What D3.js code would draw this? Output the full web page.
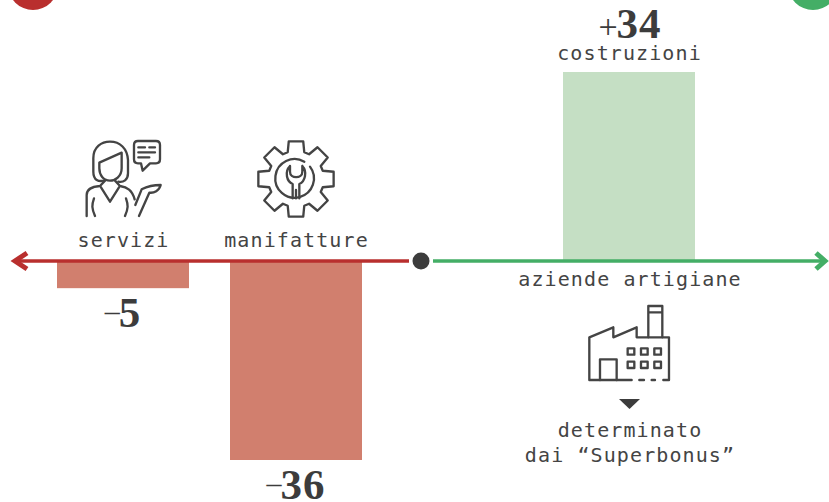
<!DOCTYPE html>
<html><head><meta charset="utf-8">
<script src="https://cdn.jsdelivr.net/npm/d3@7/dist/d3.min.js"></script>
<style>
html,body{margin:0;padding:0;background:#fff;overflow:hidden}
svg{display:block}
.m{font-family:"DejaVu Sans Mono",monospace;font-size:20px;letter-spacing:1.1px;fill:#444;text-anchor:middle}
.n{font-family:"Liberation Serif",serif;text-anchor:middle;fill:#3c3c3c}
.ic{fill:none;stroke:#444;stroke-width:7;stroke-linecap:round;stroke-linejoin:round}
</style></head><body>
<script>
const categories = ["servizi", "manifatture", "costruzioni"];
const values = [-5, -36, 34];
const axisLabel = "aziende artigiane";
const noteLines = ["determinato", "dai “Superbonus”"];

const W = 829, H = 502, ink = "#3c3c3c";
const red = "#b92f2e", green = "#44ae66", barNeg = "#d17f6e", barPos = "#c5dfc4";
const svg = d3.select("body").append("svg").attr("width", W).attr("height", H);

const x = d3.scaleOrdinal().domain(categories).range([123, 296, 629]);
const y = d3.scaleLinear().domain([-36, 34]).range([460, 72]);
const barW = 132, y0 = y(0), axisY = 261;

// corner discs
svg.append("circle").attr("cx", 33).attr("cy", -15).attr("r", 25).attr("fill", red);
svg.append("circle").attr("cx", 813).attr("cy", -15).attr("r", 25).attr("fill", green);

// bars
svg.selectAll("rect.bar").data(categories).join("rect").attr("class", "bar")
  .attr("x", d => x(d) - barW / 2).attr("width", barW)
  .attr("y", (d, i) => Math.min(y(values[i]), y0))
  .attr("height", (d, i) => Math.abs(y(values[i]) - y0))
  .attr("fill", (d, i) => values[i] < 0 ? barNeg : barPos);

// axis arrows
svg.append("line").attr("x1", 15).attr("x2", 409).attr("y1", axisY).attr("y2", axisY).attr("stroke", red).attr("stroke-width", 3.4);
svg.append("line").attr("x1", 433).attr("x2", 825).attr("y1", axisY).attr("y2", axisY).attr("stroke", green).attr("stroke-width", 3.4);
svg.append("path").attr("d", `M27 ${axisY - 8}L15 ${axisY}L27 ${axisY + 8}`).attr("fill", "none").attr("stroke", red).attr("stroke-width", 5);
svg.append("path").attr("d", `M816 ${axisY - 8}L825 ${axisY}L816 ${axisY + 8}`).attr("fill", "none").attr("stroke", green).attr("stroke-width", 5);
svg.append("circle").attr("cx", 421).attr("cy", axisY).attr("r", 8.5).attr("fill", ink);

// category labels
const labelY = [247, 247, 60];
svg.selectAll("text.cat").data(categories).join("text").attr("class", "cat m")
  .attr("x", d => x(d) + 0.5).attr("y", (d, i) => labelY[i]).text(d => d);

// value labels
const valueY = [327, 499, 38];
const val = svg.selectAll("text.val").data(values).join("text").attr("class", "val n")
  .attr("x", (d, i) => x(categories[i]) + (d < 0 ? 0 : 1)).attr("y", (d, i) => valueY[i]);
val.append("tspan").attr("font-size", d => d < 0 ? 30 : 34).attr("dy", d => d < 0 ? -6 : 0).text(d => d < 0 ? "–" : "+");
val.append("tspan").attr("font-size", 43).attr("font-weight", "bold").attr("dx", -1).attr("letter-spacing", 1).attr("dy", d => d < 0 ? 6 : 0).text(d => Math.abs(d));

// axis caption and note
svg.append("text").attr("class", "m").attr("x", 630).attr("y", 286).text(axisLabel);
svg.selectAll("text.note").data(noteLines).join("text").attr("class", "note m")
  .attr("x", 630).attr("y", (d, i) => 437 + i * 24.5).text(d => d);

// person icon
const person = svg.append("g").attr("class", "ic").attr("transform", "translate(70,130) scale(0.3333)");
[
 "M108 150C85 158 70 150 70 125V85C70 50 95 35 120 35C150 35 172 55 174 90V130C174 150 160 158 145 155",
 "M88 98L155 68V115C155 140 135 152 120 152C100 152 88 135 88 115Z",
 "M50 258V195C50 178 65 170 90 168L105 152",
 "M135 152L150 168C172 172 186 180 194 208",
 "M93 172L120 215L147 172",
 "M72 205C65 225 65 235 75 258M168 205C175 225 175 235 165 258",
 "M196 225L215 178C235 168 255 165 272 165C268 182 252 190 238 188L207 258",
 "M204 33H258Q270 33 270 45V88Q270 100 258 100H240L218 122L213 100H204Q192 100 192 88V45Q192 33 204 33Z",
 "M205 52H225M238 52H255M205 67H255M205 82H238"
].forEach(d => person.append("path").attr("d", d));

// gear icon
const gear = svg.append("g").attr("class", "ic").attr("transform", "translate(245,130) scale(0.3333)");
const gc = [153, 147], rO = 115, rI = 84, teeth = 8;
let gp = [];
for (let t = 0; t < teeth; t++) {
  const a = -Math.PI / 2 + t * 2 * Math.PI / teeth;
  [[rI, -0.30], [rO, -0.19], [rO, 0.19], [rI, 0.30]].forEach(([r, o]) =>
    gp.push([gc[0] + r * Math.cos(a + o), gc[1] + r * Math.sin(a + o)]));
}
gear.append("path").attr("d", d3.line().curve(d3.curveLinearClosed)(gp));
gear.append("path").attr("d", "M195 110A58 58 0 1 1 178 95");
gear.append("path").attr("d", "M135 108C118 125 125 155 143 162V205M172 108C188 125 180 155 163 162V205M135 108V125C135 147 172 147 172 125V108M153 180V205");

// factory icon
const fac = svg.append("g").attr("class", "ic").attr("transform", "translate(500,250) scale(0.3333)");
fac.append("path").attr("d", "M395 390H268V262L340 232V262L410 232V262H507V390H490M418 390H432M455 390H465");
fac.append("path").attr("d", "M445 262V168H487V262M445 187H487M300 390V328H350V390");
[383, 423, 463].forEach(a => [295, 335].forEach(b =>
  fac.append("rect").attr("x", a).attr("y", b).attr("width", 20).attr("height", 19)));
svg.append("path").attr("d", "M619 399H640L629.5 409Z").attr("fill", ink);
</script>
</body></html>
